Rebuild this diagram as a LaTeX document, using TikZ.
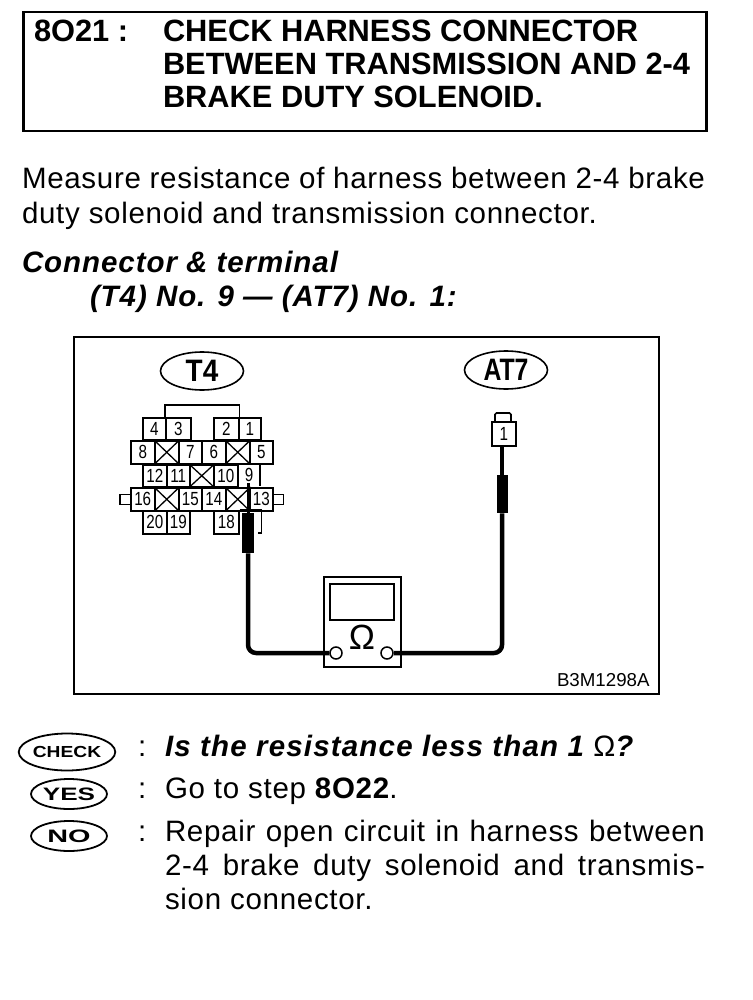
\documentclass[tikz,border=0pt]{standalone}
\usepackage{fontspec}
\usepackage{graphicx}
\setmainfont{Liberation Sans}
\newfontfamily\bodyf[LetterSpace=2.4]{Liberation Sans}
\newfontfamily\subf[LetterSpace=3.2]{Liberation Sans}
\newfontfamily\chkf[LetterSpace=4]{Liberation Sans}
\usetikzlibrary{shapes.geometric,calc}
\newcommand{\fs}[1]{\fontsize{#1}{#1}\selectfont}
\tikzset{
  x=1pt,y=-1pt,
  txt/.style={anchor=base west,inner sep=0,outer sep=0},
  body/.style={txt,font=\bodyf\fs{29.5}},
  head/.style={txt,font=\fs{30.8}\bfseries},
  sub/.style={txt,font=\subf\fs{29.5}\bfseries\itshape},
  oval/.style={draw,line width=1.6pt,shape=ellipse,inner sep=0,font=\fs{31}\bfseries,minimum width=83pt,minimum height=38pt},
  badge/.style 2 args={draw,line width=1.8pt,shape=ellipse,inner sep=0,minimum width=#1,minimum height=#2,font=\fs{16}\bfseries},
  cell/.style={draw,line width=1.5pt,inner sep=0,font=\fs{19},anchor=north west},
  wire/.style={line width=4.5pt,line join=round},
  thin wire/.style={line width=3pt},
  probe/.style={fill=black,inner sep=0,draw=none},
  box/.style={draw,line width=2pt,inner sep=0},
}
\newcommand{\cellat}[6]{\node[cell,minimum width=#4pt,minimum height=#5pt] (#1) at (#2,#3) {\vphantom{0}\scalebox{.8}[1]{#6}};}
\newcommand{\xat}[5]{\node[draw,line width=1.5pt,inner sep=0,anchor=north west,minimum width=#4pt,minimum height=#5pt] (#1) at (#2,#3) {};
  \draw[line width=1.3pt] (#1.north west) -- (#1.south east) (#1.north east) -- (#1.south west);}
\begin{document}
\begin{tikzpicture}
\useasboundingbox (0,0) rectangle (752,1000);
% header
\node[box,line width=2.5pt,anchor=north west,minimum width=683pt,minimum height=119pt] (hdr) at (22,11) {};
\node[head] (h0) at (34,42) {8O21 :};
\node[head] (h1) at (163,42) {CHECK HARNESS CONNECTOR};
\node[head] (h2) at (163,75) {BETWEEN TRANSMISSION AND 2-4};
\node[head] (h3) at (163,108) {BRAKE DUTY SOLENOID.};
% intro
\node[body] (m1) at (22,189) {\makebox[683pt][s]{Measure resistance of harness between 2-4 brake}};
\node[body] (m2) at (22,224) {duty solenoid and transmission connector.};
\node[sub] (c1) at (22,272) {Connector \& terminal};
\node[sub] (c2) at (90,306) {(T4) No. 9 — (AT7) No. 1:};
% frame
\node[box,anchor=north west,minimum width=585pt,minimum height=357pt] (frame) at (73,336) {};
\node[oval] (t4) at (202,371) {\scalebox{.9}[1]{T4}};
\node[oval] (at7) at (506,370) {\scalebox{.8}[1]{AT7}};
% T4 connector
\cellat{c4}{142}{417}{23}{22}{4}
\cellat{c3}{165}{417}{25}{22}{3}
\cellat{c2n}{213}{417}{25}{22}{2}
\cellat{c1n}{238}{417}{22}{22}{1}
\draw[line width=1.6pt] (c3.north west) -- ++(0,-12) -| (c2n.north east);
\cellat{c8}{130}{440}{24}{23}{8}
\xat{x1}{154}{440}{24}{23}
\cellat{c7}{178}{440}{23}{23}{7}
\cellat{c6}{201}{440}{24}{23}{6}
\xat{x2}{225}{440}{24}{23}
\cellat{c5}{249}{440}{23}{23}{5}
\cellat{c12}{142}{464}{24}{22}{12}
\cellat{c11}{166}{464}{23}{22}{11}
\xat{x3}{189}{464}{24}{22}
\cellat{c10}{213}{464}{24}{22}{10}
\node[inner sep=0,font=\fs{19}] (c9) at (249,475) {\scalebox{.8}[1]{9}};
\draw[line width=1.5pt] (237,464) -- (260,464) -- (260,486);
\cellat{c16}{130}{487}{24}{23}{16}
\xat{x4}{154}{487}{24}{23}
\cellat{c15}{178}{487}{23}{23}{15}
\cellat{c14}{201}{487}{24}{23}{14}
\xat{x5}{225}{487}{24}{23}
\cellat{c13}{249}{487}{23}{23}{13}
\draw[line width=1.5pt] (c16.west) ++(0,-5) -- ++(-10,0) -- ++(0,10) -- ++(10,0);
\draw[line width=1.5pt] (c13.east) ++(0,-5) -- ++(10,0) -- ++(0,10) -- ++(-10,0);
\cellat{c20}{142}{510}{24}{23}{20}
\cellat{c19}{166}{510}{23}{23}{19}
\cellat{c18}{213}{510}{25}{23}{18}
\draw[line width=1.5pt] (c18.north east) -- ++(22,0) -- ++(0,23) -- ++(-4,0);
% AT7 connector
\node[cell,minimum width=24pt,minimum height=24pt] (a1) at (491,421) {\vphantom{0}\scalebox{.8}[1]{1}};
\draw[line width=1.6pt,rounded corners=1.5pt] (a1.north west) ++(4,0) -- ++(0,-8) -- ++(16,0) -- ++(0,8);
% meter
\node[box,anchor=north west,minimum width=77pt,minimum height=90pt] (meter) at (323,576) {};
\node[draw,line width=1.8pt,anchor=north west,inner sep=0,minimum width=64pt,minimum height=36pt] (screen) at (329,583) {};
\node[inner sep=0,font=\fs{35}] (ohm) at (362,637) {Ω};
\node[draw,line width=1.5pt,shape=circle,minimum size=12pt,inner sep=0] (tl) at (336,653) {};
\node[draw,line width=1.5pt,shape=circle,minimum size=12pt,inner sep=0] (tr) at (387,653) {};
% probes and wires
\coordinate (pl) at (248,483);
\node[probe,minimum width=12pt,minimum height=40pt,anchor=north] (bl) at (248,513) {};
\node[probe,minimum width=11pt,minimum height=38pt,anchor=north] (br) at (502,475) {};
\draw[thin wire] (pl) -- (bl.north);
\draw[wire,rounded corners=8pt] (bl.south) -- (248,653) -- (tl.west);
\draw[wire,rounded corners=8pt] (tr.east) -- (502,653) -- (br.south);
\draw[wire] (br.north) -- (a1.south -| br);
\node[txt,font=\fs{18.7}] (code) at (557,686) {B3M1298A};
% check
\node[badge={95pt}{37pt}] (bcheck) at (67,752) {\scalebox{1.2}[1]{CHECK}};
\node[badge={76pt}{30pt},font=\fs{18}\bfseries] (byes) at (69,794) {\scalebox{1.45}[1]{YES}};
\node[badge={76pt}{30pt},font=\fs{18}\bfseries] (bno) at (69,836) {\scalebox{1.6}[1]{NO}};
\node[body] (q1) at (138,756) {:};
\node[body] (q2) at (138,798) {:};
\node[body] (q3) at (138,841) {:};
\node[sub,font=\chkf\fs{29.5}\bfseries\itshape] (t1) at (165,756) {Is the resistance less than 1 {\fontseries{m}\upshape Ω}?};
\node[body] (t2) at (165,798) {Go to step {\bfseries 8O22}.};
\node[body] (t3) at (165,841) {\makebox[540pt][s]{Repair open circuit in harness between}};
\node[body] (t4a) at (165,875) {\makebox[540pt][s]{2-4 brake duty solenoid and transmis-}};
\node[body] (t5) at (165,909) {sion connector.};
\end{tikzpicture}
\end{document}
